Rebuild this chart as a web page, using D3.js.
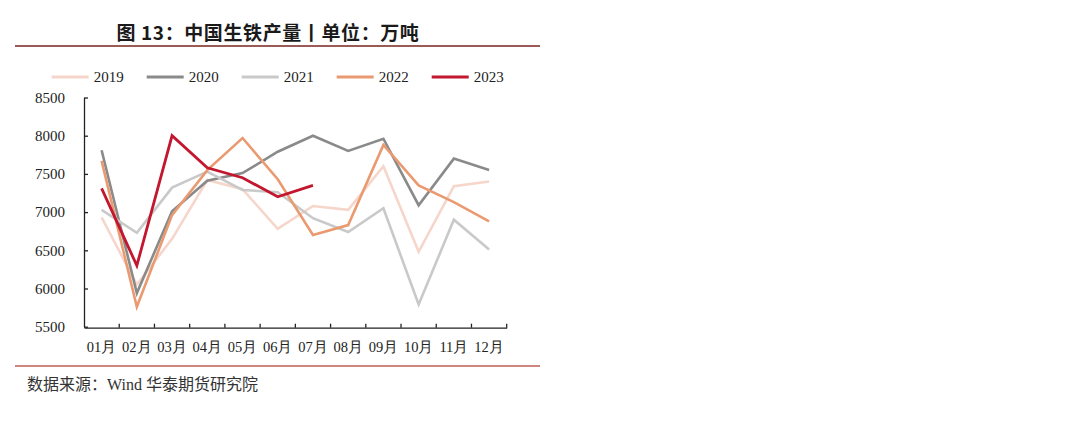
<!DOCTYPE html>
<html>
<head>
<meta charset="utf-8">
<script src="https://cdn.jsdelivr.net/npm/d3@7/dist/d3.min.js"></script>
<style>
  html, body { margin: 0; padding: 0; background: #fff; }
  svg { display: block; }
</style>
</head>
<body>
<svg id="chart" width="1080" height="426"></svg>
<script>
// Monthly pig iron output, 10k tonnes
const months = ['01月', '02月', '03月', '04月', '05月', '06月', '07月', '08月', '09月', '10月', '11月', '12月'];
const years = ['2019', '2020', '2021', '2022', '2023'];
const v2019 = [6930, 6050, 6650, 7420, 7300, 6780, 7080, 7030, 7600, 6480, 7340, 7400];
const v2020 = [7810, 5940, 7010, 7410, 7510, 7790, 8000, 7800, 7960, 7090, 7700, 7550];
const v2021 = [7030, 6730, 7320, 7530, 7290, 7260, 6920, 6740, 7050, 5790, 6900, 6510];
const v2022 = [7670, 5760, 6960, 7550, 7970, 7430, 6700, 6830, 7880, 7350, 7130, 6880];
const v2023 = [7310, 6300, 8000, 7580, 7450, 7200, 7350];
const yTicks = [5500, 6000, 6500, 7000, 7500, 8000, 8500];

const seriesValues = [v2019, v2020, v2021, v2022, v2023];
const colors = ['#f6d6ca', '#8a8a8a', '#c9c9c9', '#ea9a70', '#c2172f'];

const svg = d3.select('#chart');
const serif = '"Liberation Serif", "Times New Roman", serif';
const cjk = '"Noto Sans CJK SC", sans-serif';

// Title + rule
svg.append('text')
    .attr('x', 268).attr('y', 40)
    .attr('text-anchor', 'middle')
    .attr('font-family', cjk)
    .attr('font-weight', 700)
    .attr('font-size', 19)
    .attr('letter-spacing', 0.6)
    .attr('fill', '#1a1a1a')
    .text('图 13：中国生铁产量丨单位：万吨');

svg.append('line')
    .attr('x1', 15).attr('x2', 540)
    .attr('y1', 46).attr('y2', 46)
    .attr('stroke', '#9a5a55').attr('stroke-width', 2);

// Scales
const x = d3.scaleBand().domain(months).range([84, 506.7]).padding(0);
const y = d3.scaleLinear().domain([5500, 8500]).range([326.7, 97.5]);
const cx = m => x(m) + x.bandwidth() / 2;

// Axes
const yAxis = svg.append('g')
    .attr('transform', 'translate(84,0)')
    .call(d3.axisLeft(y).tickValues(yTicks).tickSizeInner(-4).tickSizeOuter(0).tickPadding(19).tickFormat(d3.format('d')));
yAxis.select('.domain').attr('stroke', '#222').attr('stroke-width', 1.3);
yAxis.selectAll('.tick line').attr('stroke', '#222').attr('stroke-width', 1.3);
yAxis.selectAll('text').attr('font-family', serif).attr('font-size', 15).attr('fill', '#222');

const xAxis = svg.append('g')
    .attr('transform', 'translate(0,327.7)')
    .call(d3.axisBottom(x).tickSize(0).tickSizeOuter(0).tickPadding(14));
xAxis.select('.domain').attr('stroke', '#222').attr('stroke-width', 1.3);
xAxis.selectAll('text').attr('font-family', serif).attr('font-size', 14.5).attr('fill', '#222');

// tick marks at band boundaries, pointing up
svg.append('g')
    .selectAll('line')
    .data(months)
    .join('line')
    .attr('x1', d => x(d) + x.bandwidth())
    .attr('x2', d => x(d) + x.bandwidth())
    .attr('y1', 327.7).attr('y2', 323.7)
    .attr('stroke', '#222').attr('stroke-width', 1.3);

// Lines
const line = d3.line()
    .x((d, i) => cx(months[i]))
    .y(d => y(d));

svg.append('g')
    .selectAll('path')
    .data(seriesValues)
    .join('path')
    .attr('d', d => line(d))
    .attr('fill', 'none')
    .attr('stroke', (d, i) => colors[i])
    .attr('stroke-width', (d, i) => i === 4 ? 2.8 : 2.6)
    .attr('stroke-linejoin', 'miter');

// Legend
const legendX = [51.7, 146.7, 241.7, 336.7, 431.7];
const legend = svg.append('g')
    .selectAll('g')
    .data(years)
    .join('g')
    .attr('transform', (d, i) => `translate(${legendX[i]},77)`);
legend.append('line')
    .attr('x1', 0).attr('x2', 37)
    .attr('stroke', (d, i) => colors[i])
    .attr('stroke-width', 3);
legend.append('text')
    .attr('x', 42).attr('dy', '0.35em')
    .attr('font-family', serif).attr('font-size', 15).attr('fill', '#222')
    .text(d => d);

// Bottom rule + source
svg.append('line')
    .attr('x1', 15).attr('x2', 540)
    .attr('y1', 366).attr('y2', 366)
    .attr('stroke', '#cf8580').attr('stroke-width', 2);

const src = svg.append('text')
    .attr('x', 27).attr('y', 390)
    .attr('font-size', 16).attr('fill', '#333');
src.append('tspan').attr('font-family', cjk).text('数据来源：');
src.append('tspan').attr('font-family', serif).text('Wind ');
src.append('tspan').attr('font-family', cjk).text(' 华泰期货研究院');
</script>
</body>
</html>
